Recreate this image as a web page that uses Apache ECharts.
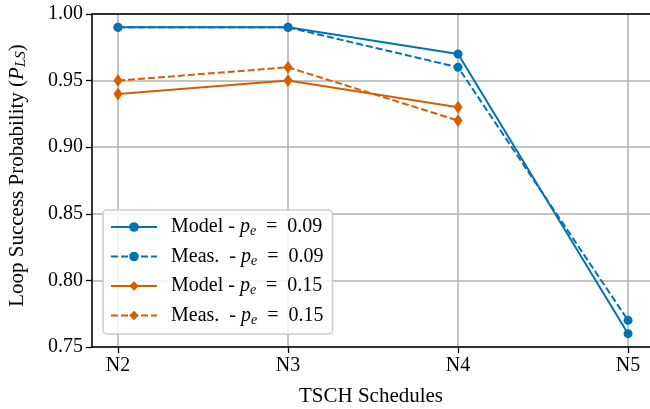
<!DOCTYPE html>
<html><head><meta charset="utf-8">
<script src="https://cdn.jsdelivr.net/npm/echarts@6/dist/echarts.min.js"></script>
<style>html,body{margin:0;padding:0;background:#fff}#c{width:650px;height:409px}</style>
</head><body><div id="c"></div>
<script>
var categories = ['N2', 'N3', 'N4', 'N5'];
var modelP009 = [0.99, 0.99, 0.97, 0.76];
var measP009 = [0.99, 0.99, 0.96, 0.77];
var modelP015 = [0.94, 0.95, 0.93];
var measP015 = [0.95, 0.96, 0.92];
var yTicks = [0.75, 0.80, 0.85, 0.90, 0.95, 1.00];

var BLUE = '#0173b2', ORANGE = '#d55e00';
var FONT = 'Liberation Serif';
var FS = 20;
function pts(arr){ return arr.map(function(v,i){ return [i, v]; }); }
var rich = {
  it: {fontFamily: FONT, fontStyle: 'italic', fontSize: FS, color: '#000'},
  sub: {fontFamily: FONT, fontStyle: 'italic', fontSize: 14, color: '#000', verticalAlign: 'bottom', padding: [9,0,0,0]},
  n: {fontFamily: FONT, fontSize: FS, color: '#000'}
};
var richY = {
  it: {fontFamily: FONT, fontStyle: 'italic', fontSize: 21, color: '#000'},
  sub: {fontFamily: FONT, fontStyle: 'italic', fontSize: 15, color: '#000', verticalAlign: 'bottom', padding: [9,0,0,0]},
  n: {fontFamily: FONT, fontSize: 21, color: '#000'}
};
var chart = echarts.init(document.getElementById('c'), null, {renderer: 'canvas'});
function mk(name, data, color, dashed, symbol, size){
  return {
    name: name, type: 'line', data: pts(data),
    symbol: symbol, symbolSize: size, showSymbol: true,
    lineStyle: {color: color, width: 2, type: dashed ? [7, 3] : 'solid'},
    itemStyle: {color: color}, z: 3, animation: false
  };
}
chart.setOption({
  animation: false,
  grid: {left: 92, top: 14, right: 0, bottom: 62, containLabel: false, outerBoundsMode: 'none'},
  xAxis: [{
    type: 'value', min: -0.153, max: 3.129, minInterval: 1, maxInterval: 1,
    axisLine: {show: true, onZero: false, lineStyle: {color: '#000', width: 1.6}},
    axisTick: {show: true, length: 6, inside: false, lineStyle: {color: '#000', width: 1.3}, customValues: [0,1,2,3]},
    axisLabel: {customValues: [0,1,2,3], formatter: function(v){ return categories[Math.round(v)] || ''; }, fontFamily: FONT, fontSize: FS, color: '#000', margin: 9},
    splitLine: {show: true, lineStyle: {color: '#b0b0b0', width: 1.5}},
    name: 'TSCH Schedules', nameLocation: 'middle', nameGap: 39,
    nameTextStyle: {fontFamily: FONT, fontSize: 21, color: '#000'}
  }, {
    type: 'value', position: 'top', min: -0.153, max: 3.129,
    axisLine: {show: true, onZero: false, lineStyle: {color: '#000', width: 1.6}},
    axisTick: {show: false}, axisLabel: {show: false}, splitLine: {show: false}
  }],
  yAxis: {
    type: 'value', min: 0.75, max: 1.0, interval: 0.05,
    axisLine: {show: true, onZero: false, lineStyle: {color: '#000', width: 1.6}},
    axisTick: {show: true, length: 6, lineStyle: {color: '#000', width: 1.3}},
    axisLabel: {formatter: function(v){ return v.toFixed(2); }, fontFamily: FONT, fontSize: FS, color: '#000', margin: 9},
    splitLine: {show: true, lineStyle: {color: '#b0b0b0', width: 1.5}},
    name: '{n|Loop Success Probability (}{it|P}{sub|LS}{n|)}', nameLocation: 'middle', nameGap: 63, nameRotate: 90,
    nameTextStyle: {fontFamily: FONT, fontSize: 21, color: '#000', rich: richY, padding: [0, 0, 0, 10]}
  },
  legend: {
    left: 103, top: 210, orient: 'vertical', itemGap: 8,
    itemWidth: 46, itemHeight: 12,
    padding: [7, 9, 7, 7],
    backgroundColor: 'rgba(255,255,255,0.85)', borderColor: '#cccccc', borderWidth: 1.5, borderRadius: 4,
    textStyle: {fontFamily: FONT, fontSize: FS, color: '#000', rich: rich, padding: [0,0,0,9]},
    formatter: function(name){
      var p = name.split('|');
      return '{n|' + p[0] + ' - }{it|p}{sub|e}{n|\u2002=\u2002' + p[1] + '}';
    },
    data: ['Model|0.09', 'Meas. |0.09', 'Model|0.15', 'Meas. |0.15']
  },
  series: [
    mk('Model|0.09', modelP009, BLUE, false, 'circle', 9),
    mk('Meas. |0.09', measP009, BLUE, true, 'circle', 9),
    mk('Model|0.15', modelP015, ORANGE, false, 'diamond', [9, 13]),
    mk('Meas. |0.15', measP015, ORANGE, true, 'diamond', [9, 13])
  ]
});
</script></body></html>
